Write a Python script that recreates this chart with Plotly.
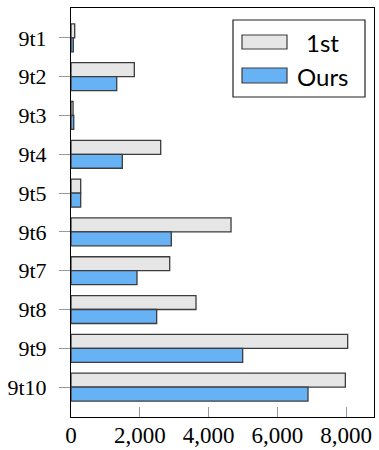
import plotly.graph_objects as go

# Per-instance values for the two methods
instances = ["9t1", "9t2", "9t3", "9t4", "9t5", "9t6", "9t7", "9t8", "9t9", "9t10"]
first_vals = [108, 1842, 60, 2609, 282, 4655, 2871, 3636, 8048, 7981]
ours_vals = [67, 1330, 80, 1493, 282, 2918, 1920, 2492, 4994, 6894]
x_ticks = [0, 2000, 4000, 6000, 8000]

GRAY_FILL = "#e6e6e6"
BLUE_FILL = "#66b2f5"
EDGE = "#3c3c3c"
SERIF = "Liberation Serif"
SANS = "Lato"

fig = go.Figure()
fig.add_trace(go.Bar(
    y=instances, x=first_vals, orientation="h", name="1st",
    marker=dict(color=GRAY_FILL, line=dict(color=EDGE, width=1.3)),
    showlegend=False,
))
fig.add_trace(go.Bar(
    y=instances, x=ours_vals, orientation="h", name="Ours",
    marker=dict(color=BLUE_FILL, line=dict(color=EDGE, width=1.3)),
    showlegend=False,
))

# Legend box drawn in paper coordinates (wide swatches)
W, H = 379, 450
L, R, T, B = 71, 5, 8, 33
pw, ph = W - L - R, H - T - B


def px(x):
    return (x - L) / pw


def py(y):
    return 1 - (y - T) / ph


shapes = [
    dict(type="rect", xref="paper", yref="paper",
         x0=px(233), x1=px(365), y0=py(20), y1=py(97),
         line=dict(color="#222222", width=1.2), fillcolor="white", layer="above"),
    dict(type="rect", xref="paper", yref="paper",
         x0=px(242), x1=px(287), y0=py(35), y1=py(49),
         line=dict(color=EDGE, width=1.2), fillcolor=GRAY_FILL, layer="above"),
    dict(type="rect", xref="paper", yref="paper",
         x0=px(242), x1=px(287), y0=py(68), y1=py(83),
         line=dict(color=EDGE, width=1.2), fillcolor=BLUE_FILL, layer="above"),
]
annotations = [
    dict(text="1st", xref="paper", yref="paper", x=px(322), y=py(42),
         showarrow=False, xanchor="center", yanchor="middle",
         font=dict(family=SANS, size=24, color="black")),
    dict(text="Ours", xref="paper", yref="paper", x=px(322), y=py(76),
         showarrow=False, xanchor="center", yanchor="middle",
         font=dict(family=SANS, size=24, color="black")),
]

fig.update_layout(
    width=W, height=H,
    margin=dict(l=L, r=R, t=T, b=B, pad=0, autoexpand=False),
    paper_bgcolor="white", plot_bgcolor="white",
    barmode="group", bargap=0.28, bargroupgap=0,
    shapes=shapes, annotations=annotations,
    xaxis=dict(
        range=[0, 8814], tickvals=x_ticks, tickformat=",",
        ticks="inside", ticklen=10, tickcolor="#999999", tickwidth=1,
        showline=True, linecolor="black", linewidth=1.2, mirror=True,
        showgrid=False, zeroline=False, automargin=False,
        tickfont=dict(family=SERIF, size=23, color="black"),
        ticklabelstandoff=-3,
    ),
    yaxis=dict(
        autorange=False, range=[9.77, -0.77],
        ticks="outside", ticklen=11, tickcolor="#999999", tickwidth=1,
        showline=True, linecolor="black", linewidth=1.2, mirror=True,
        showgrid=False, zeroline=False, automargin=False,
        tickfont=dict(family=SERIF, size=22, color="black"),
        ticklabelstandoff=8,
    ),
)

fig.write_html("out.html")
